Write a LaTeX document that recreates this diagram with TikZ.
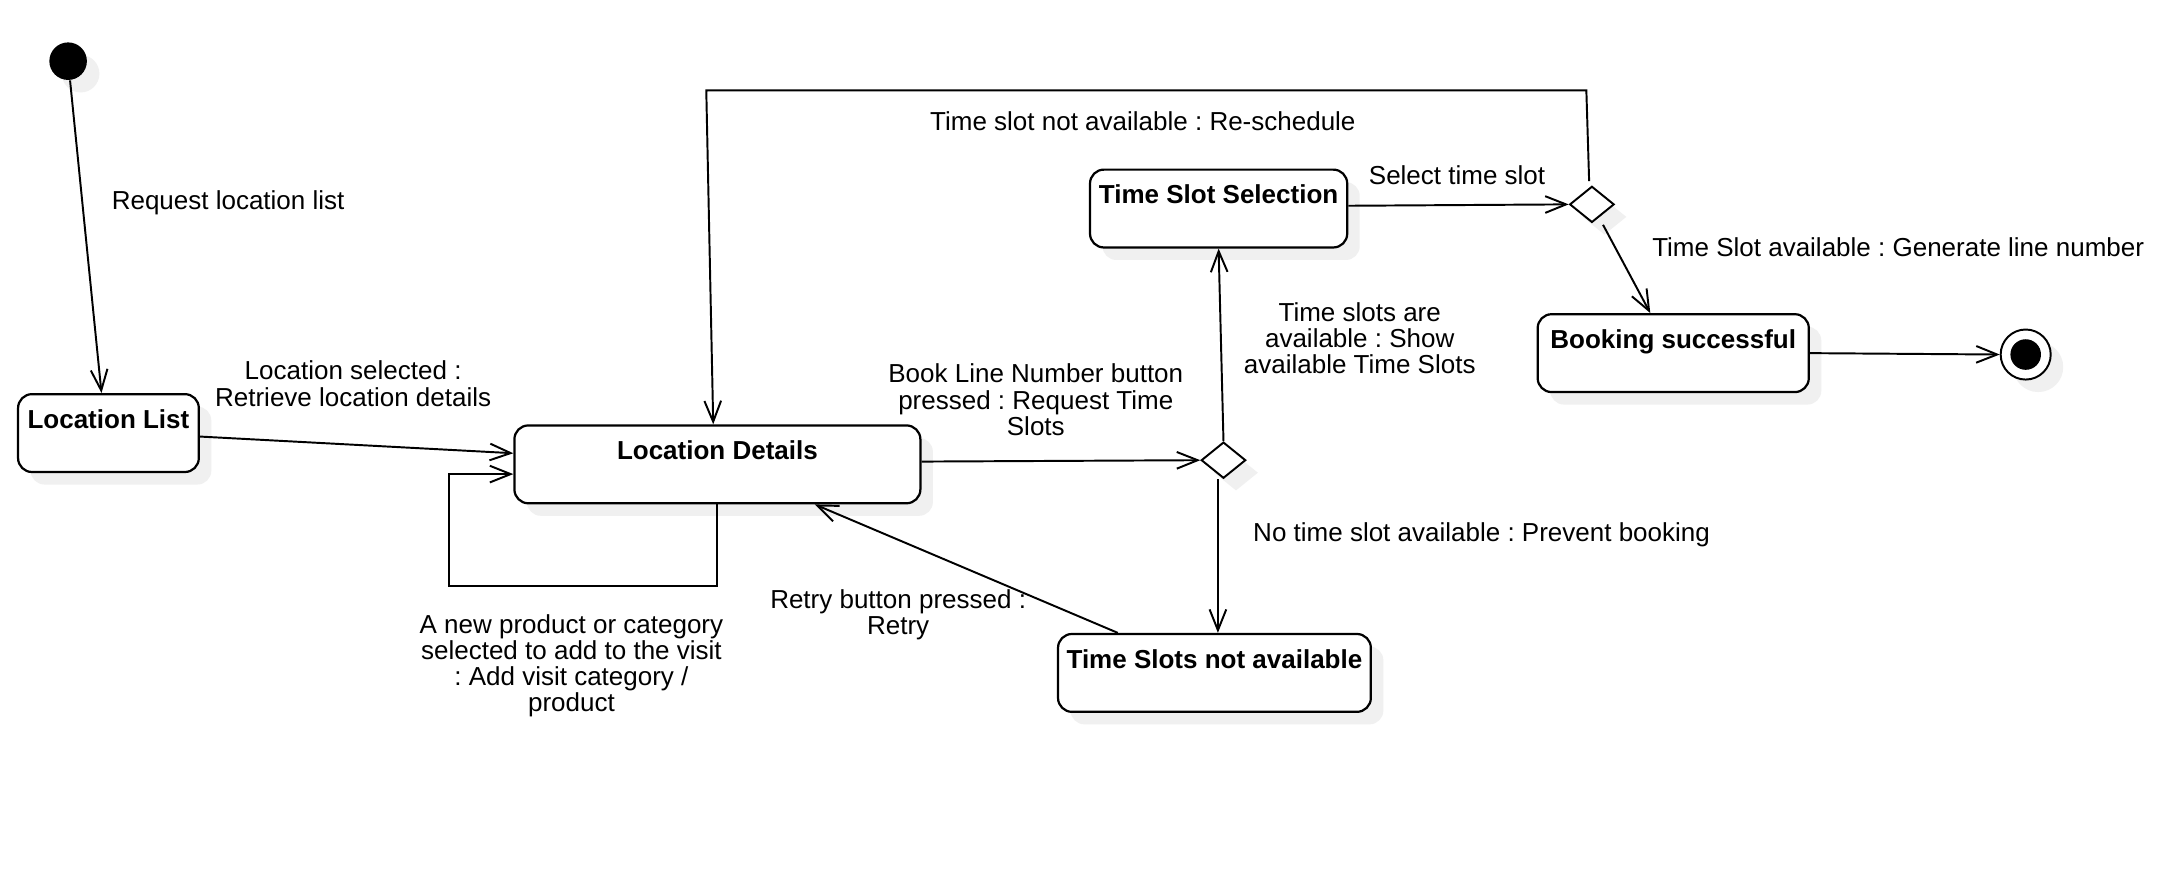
\documentclass[tikz,border=0pt]{standalone}
\usepackage{fontspec}
\setmainfont{Liberation Sans}
\usetikzlibrary{shapes.geometric,arrows.meta,shadows}

\tikzset{
  shade/.style={drop shadow={shadow xshift=4.5pt,shadow yshift=-4.5pt,fill=black!6,opacity=1}},
  state/.style={draw,fill=white,rounded corners=5pt,line width=0.8pt,font=\bfseries,
    inner xsep=0pt,inner ysep=0pt,text height=12.3pt,text depth=15.7pt,shade},
  choice/.style={diamond,draw,fill=white,line width=0.7pt,minimum width=16pt,
    minimum height=13pt,inner sep=0pt,shade},
  trans/.style={-{Straight Barb[length=7.5pt,width=6pt]},line width=0.7pt},
  lbl/.style={align=center,inner sep=0pt}
}

\begin{document}
\frenchspacing
\fontsize{9.35pt}{9.4pt}\selectfont
\begin{tikzpicture}[x=0.5pt,y=-0.5pt]
  \useasboundingbox[fill=white] (0,0) rectangle (1568,626);

  \node[circle,fill=black,minimum size=13.5pt,inner sep=0pt,shade] (init) at (49,44) {};
  \node[state,minimum width=65pt] (LocList) at (78,311.5) {Location List};
  \node[state,minimum width=146pt] (LocDet) at (516,334) {Location Details};
  \node[state,minimum width=92.5pt] (TSSel) at (876.5,150) {Time Slot Selection};
  \node[state,minimum width=112.5pt] (TSNot) at (873.5,484) {Time Slots not available};
  \node[state,minimum width=97.5pt] (Booked) at (1203.5,254) {Booking successful};
  \node[choice] (dec1) at (880,331) {};
  \node[choice] (dec2) at (1145,147) {};
  \node[circle,draw,fill=white,line width=0.7pt,minimum size=18pt,inner sep=0pt,shade] (final) at (1457,255) {};
  \node[circle,fill=black,minimum size=11pt,inner sep=0pt] (finalDot) at (final) {};

  \coordinate (rsA) at (1141,65);
  \coordinate (rsB) at (508,65);

  \draw[trans] (init) -- ([xshift=-2.5pt]LocList.north);
  \node[lbl,anchor=west] (reqLbl) at (80,146) {Request location list};

  \draw[trans] ([yshift=-1.25pt]LocList.east) -- ([yshift=4pt]LocDet.west);
  \node[lbl] (selLbl) at (254,276) {Location selected :\\Retrieve location details};

  \draw[trans] (LocDet.south) -- ++(0,59) -| ([xshift=-23pt,yshift=-3.5pt]LocDet.west) -- ([yshift=-3.5pt]LocDet.west);
  \node[lbl] (addLbl) at (411,479) {A new product or category\\selected to add to the visit\\: Add visit category /\\product};

  \draw[trans] ([yshift=1pt]LocDet.east) -- (dec1.west);
  \node[lbl] (bookLbl) at (745,287.5) {Book Line Number button\\pressed : Request Time\\Slots};

  \draw[trans] (dec1.north) -- (TSSel.south);
  \node[lbl] (showLbl) at (978,243.5) {Time slots are\\available : Show\\available Time Slots};

  \draw[trans] ([xshift=-2pt]dec1.south) -- ([xshift=-2pt]dec1.south |- TSNot.north);
  \node[lbl,anchor=west] (noLbl) at (901,385) {No time slot available : Prevent booking};

  \draw[trans] ([xshift=-34.75pt]TSNot.north) -- ([xshift=35pt]LocDet.south);
  \node[lbl] (retryLbl) at (646,442) {Retry button pressed :\\Retry};

  \draw[trans] ([yshift=1pt]TSSel.east) -- (dec2.west);
  \node[lbl] (pickLbl) at (1048,126) {Select time slot};

  \draw[trans] ([xshift=-1pt,yshift=1.5pt]dec2.north) -- (rsA) -- (rsB) -- ([xshift=-1.5pt]LocDet.north);
  \node[lbl] (reLbl) at (822,87) {Time slot not available : Re-schedule};

  \draw[trans] ([xshift=4pt,yshift=-0.5pt]dec2.south) -- ([xshift=-8.25pt]Booked.north);
  \node[lbl,anchor=west] (genLbl) at (1188,178) {Time Slot available : Generate line number};

  \draw[trans] (Booked.east) -- (final.west);
\end{tikzpicture}
\end{document}
